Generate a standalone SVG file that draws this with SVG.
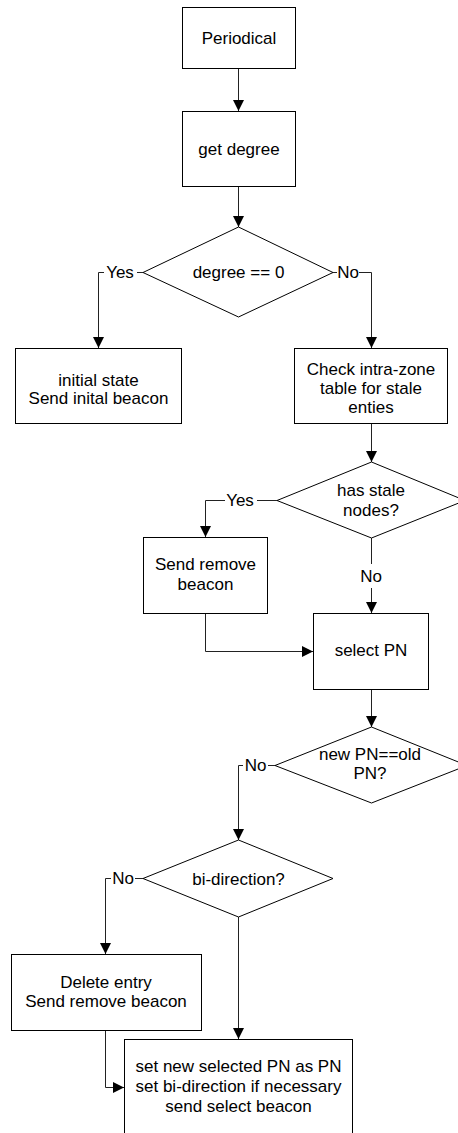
<svg xmlns="http://www.w3.org/2000/svg" width="458" height="1133" viewBox="0 0 458 1133">
<style>
.box{fill:#fff;stroke:#000;stroke-width:1}
.t{font-family:"Liberation Sans",Arial,sans-serif;font-size:17px;fill:#000;text-anchor:middle}
.c{fill:none;stroke:#222;stroke-width:1}
</style>
<defs>
<marker id="arr" markerUnits="userSpaceOnUse" markerWidth="11" markerHeight="11" refX="11" refY="5.5" orient="auto">
<path d="M0,0 L11,5.5 L0,11 z" fill="#000"/>
</marker>
</defs>
<rect width="458" height="1133" fill="#fff"/>
<g id="connectors">
<path class="c" d="M238.5,68.5 V111" marker-end="url(#arr)"/>
<path class="c" d="M238.5,186.5 V227" marker-end="url(#arr)"/>
<path class="c" d="M143,272.5 H137"/>
<path class="c" d="M104,272.5 H98.5 V348" marker-end="url(#arr)"/>
<text class="t" x="120" y="278">Yes</text>
<path class="c" d="M333,272.5 H337"/>
<path class="c" d="M359,272.5 H371.5 V348" marker-end="url(#arr)"/>
<text class="t" x="348" y="278">No</text>
<path class="c" d="M371.5,423.5 V462" marker-end="url(#arr)"/>
<path class="c" d="M277,500.5 H257"/>
<path class="c" d="M225,500.5 H205.5 V537" marker-end="url(#arr)"/>
<text class="t" x="240" y="506">Yes</text>
<path class="c" d="M371.5,538 V564"/>
<path class="c" d="M371.5,588 V613" marker-end="url(#arr)"/>
<text class="t" x="371" y="582">No</text>
<path class="c" d="M205.5,613.5 V651.5 H313" marker-end="url(#arr)"/>
<path class="c" d="M371.5,689.5 V727" marker-end="url(#arr)"/>
<path class="c" d="M275,765.5 H268"/>
<path class="c" d="M243,765.5 H238.5 V840" marker-end="url(#arr)"/>
<text class="t" x="255.5" y="771">No</text>
<path class="c" d="M143,878.5 H135"/>
<path class="c" d="M111,878.5 H105.5 V954" marker-end="url(#arr)"/>
<text class="t" x="123" y="884">No</text>
<path class="c" d="M238.5,917 V1039" marker-end="url(#arr)"/>
<path class="c" d="M105.5,1030.5 V1087.5 H124" marker-end="url(#arr)"/>
</g>
<g id="periodical">
<rect class="box" x="182.5" y="7.5" width="113" height="61"/>
<text class="t" x="239" y="44">Periodical</text>
</g>
<g id="get-degree">
<rect class="box" x="182.5" y="111.5" width="113" height="75"/>
<text class="t" x="239" y="155">get degree</text>
</g>
<g id="degree-zero">
<polygon class="box" points="238.5,227 333,272.5 238.5,317 143,272.5"/>
<text class="t" x="238.5" y="278">degree == 0</text>
</g>
<g id="initial-state">
<rect class="box" x="15.5" y="348.5" width="166" height="75"/>
<text class="t" x="98.5" y="386">initial state</text>
<text class="t" x="98.5" y="404">Send inital beacon</text>
</g>
<g id="check-table">
<rect class="box" x="294.5" y="348.5" width="153" height="75"/>
<text class="t" x="371" y="375">Check intra-zone</text>
<text class="t" x="371" y="394">table for stale</text>
<text class="t" x="371" y="413">enties</text>
</g>
<g id="has-stale">
<polygon class="box" points="371.5,462 465,500.5 371.5,538 277,500.5"/>
<text class="t" x="371" y="496">has stale</text>
<text class="t" x="371" y="516">nodes?</text>
</g>
<g id="send-remove">
<rect class="box" x="143.5" y="537.5" width="124" height="76"/>
<text class="t" x="205.5" y="570">Send remove</text>
<text class="t" x="205.5" y="590">beacon</text>
</g>
<g id="select-pn">
<rect class="box" x="313.5" y="613.5" width="115" height="76"/>
<text class="t" x="371" y="656">select PN</text>
</g>
<g id="new-old">
<polygon class="box" points="371.5,727 467,765.5 371.5,803 275,765.5"/>
<text class="t" x="370" y="760">new PN==old</text>
<text class="t" x="370" y="779">PN?</text>
</g>
<g id="bi-direction">
<polygon class="box" points="238.5,840 333,878.5 238.5,917 143,878.5"/>
<text class="t" x="238.5" y="885">bi-direction?</text>
</g>
<g id="delete-entry">
<rect class="box" x="11.5" y="954.5" width="190" height="76"/>
<text class="t" x="106" y="988">Delete entry</text>
<text class="t" x="106" y="1007">Send remove beacon</text>
</g>
<g id="set-new">
<rect class="box" x="124.5" y="1039.5" width="228" height="120"/>
<text class="t" x="238.5" y="1072">set new selected PN as PN</text>
<text class="t" x="238.5" y="1092">set bi-direction if necessary</text>
<text class="t" x="238.5" y="1112">send select beacon</text>
</g>
</svg>
